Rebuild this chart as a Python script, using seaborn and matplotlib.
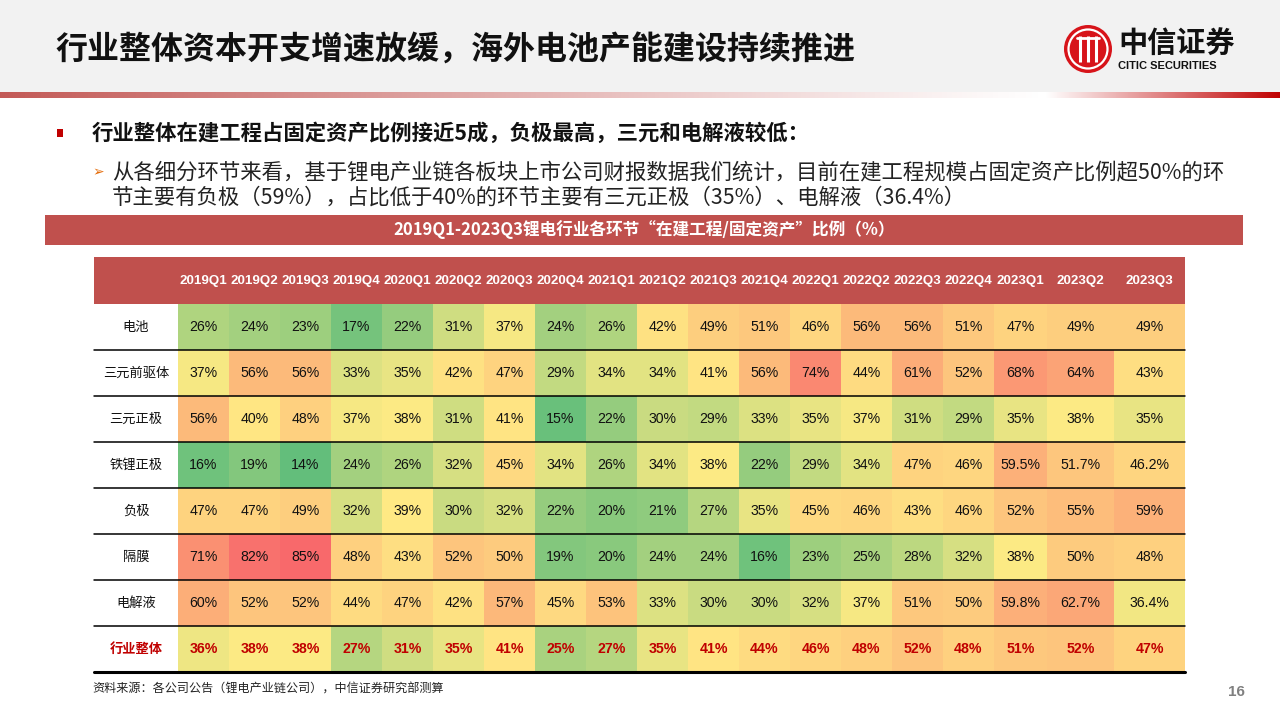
import numpy as np
import pandas as pd
import matplotlib
matplotlib.use("Agg")
import matplotlib.pyplot as plt
import matplotlib.transforms as mtransforms
from matplotlib.colors import LinearSegmentedColormap, TwoSlopeNorm
from matplotlib.patches import Rectangle, Circle
from matplotlib.ticker import NullLocator
import seaborn as sns

# ---------------- data ----------------
quarters = ["2019Q1", "2019Q2", "2019Q3", "2019Q4", "2020Q1", "2020Q2", "2020Q3", "2020Q4",
            "2021Q1", "2021Q2", "2021Q3", "2021Q4", "2022Q1", "2022Q2", "2022Q3", "2022Q4",
            "2023Q1", "2023Q2", "2023Q3"]
segments = ["电池", "三元前驱体", "三元正极", "铁锂正极", "负极", "隔膜", "电解液", "行业整体"]

battery     = [26, 24, 23, 17, 22, 31, 37, 24, 26, 42, 49, 51, 46, 56, 56, 51, 47, 49, 49]
ncm_precur  = [37, 56, 56, 33, 35, 42, 47, 29, 34, 34, 41, 56, 74, 44, 61, 52, 68, 64, 43]
ncm_cathode = [56, 40, 48, 37, 38, 31, 41, 15, 22, 30, 29, 33, 35, 37, 31, 29, 35, 38, 35]
lfp_cathode = [16, 19, 14, 24, 26, 32, 45, 34, 26, 34, 38, 22, 29, 34, 47, 46, 59.5, 51.7, 46.2]
anode       = [47, 47, 49, 32, 39, 30, 32, 22, 20, 21, 27, 35, 45, 46, 43, 46, 52, 55, 59]
separator   = [71, 82, 85, 48, 43, 52, 50, 19, 20, 24, 24, 16, 23, 25, 28, 32, 38, 50, 48]
electrolyte = [60, 52, 52, 44, 47, 42, 57, 45, 53, 33, 30, 30, 32, 37, 51, 50, 59.8, 62.7, 36.4]
industry    = [36, 38, 38, 27, 31, 35, 41, 25, 27, 35, 41, 44, 46, 48, 52, 48, 51, 52, 47]

title = "行业整体资本开支增速放缓，海外电池产能建设持续推进"
bullet = "行业整体在建工程占固定资产比例接近5成，负极最高，三元和电解液较低："
sub1 = "从各细分环节来看，基于锂电产业链各板块上市公司财报数据我们统计，目前在建工程规模占固定资产比例超50%的环"
sub2 = "节主要有负极（59%），占比低于40%的环节主要有三元正极（35%）、电解液（36.4%）"
banner = "2019Q1-2023Q3锂电行业各环节“在建工程/固定资产”比例（%）"
source = "资料来源：各公司公告（锂电产业链公司），中信证券研究部测算"

# ---------------- style ----------------
sns.set_theme(style="white")
CJK = ["Noto Sans CJK SC", "DejaVu Sans"]
LAT = ["Liberation Sans", "Noto Sans CJK SC", "DejaVu Sans"]
plt.rcParams["font.family"] = CJK

RED = "#C0504D"
DARK_RED = "#C00000"

W, H = 1280, 720
fig = plt.figure(figsize=(12.8, 7.2), dpi=100)
fig.patch.set_facecolor("white")

# background / page decoration axes in pixel coordinates
bg = fig.add_axes([0, 0, 1, 1])
bg.set_xlim(0, W)
bg.set_ylim(H, 0)
bg.axis("off")

bg.add_patch(Rectangle((0, 0), W, 92, color="#F2F2F2", lw=0))
# gradient strip
xs = np.arange(W)
grad = np.zeros((1, W, 4))
left = xs < 1045
grad[0, left, :3] = matplotlib.colors.to_rgb(RED)
grad[0, left, 3] = 0.95 * (1 - xs[left] / 1045.0) ** 1.1
grad[0, ~left, :3] = matplotlib.colors.to_rgb(DARK_RED)
grad[0, ~left, 3] = (xs[~left] - 1045) / (W - 1045.0)
bg.imshow(grad, extent=(0, W, 98, 92), aspect="auto", interpolation="bilinear")
bg.set_xlim(0, W)
bg.set_ylim(H, 0)

bg.text(55, 51, title, fontsize=23, fontweight="bold", color="#111111", va="center", ha="left")

# logo
bg.add_patch(Circle((1088, 49), 24, color="#D7141A", lw=0))
bg.add_patch(Circle((1088, 49), 19.5, fill=False, ec="white", lw=1.6))
for dx in (-8, 0, 8):
    bg.plot([1088 + dx, 1088 + dx], [36, 62], color="white", lw=2.2, solid_capstyle="butt")
bg.plot([1077, 1099], [38, 38], color="white", lw=2)
bg.text(1118, 44, "中信证券", fontsize=21, fontweight="bold", color="#111111", va="center", ha="left")
bg.text(1118, 66, "CITIC SECURITIES", fontsize=8, fontweight="bold", color="#111111",
        va="center", ha="left", family=LAT)

# bullet texts
bg.add_patch(Rectangle((57, 129), 6, 8, color=DARK_RED, lw=0))
bg.text(92, 133, bullet, fontsize=15.4, fontweight="bold", color="#111111", va="center", ha="left")
bg.text(98, 172, "➢", fontsize=10, color="#E46C0A", va="center", ha="center", family=["DejaVu Sans"])
bg.text(112, 172, sub1, fontsize=15.4, color="#222222", va="center", ha="left")
bg.text(112, 198, sub2, fontsize=15.4, color="#222222", va="center", ha="left")

# banner
bg.add_patch(Rectangle((45, 215), 1198, 30, color=RED, lw=0))
bg.text(644, 230, banner, fontsize=12, fontweight="bold", color="white", va="center", ha="center")

# table header background
L, R, T, B = 178, 1185, 304, 672
bg.add_patch(Rectangle((94, 257), R - 94, T - 257, color=RED, lw=0))

# footer
bg.text(92, 689, source, fontsize=8.7, color="#222222", va="center", ha="left")
bg.text(1236, 692, "16", fontsize=11, fontweight="bold", color="#808080", va="center", ha="center", family=LAT)

# ---------------- heatmap ----------------
ax = fig.add_axes([L / W, 1 - B / H, (R - L) / W, (B - T) / H])
df = pd.DataFrame([battery, ncm_precur, ncm_cathode, lfp_cathode, anode, separator, electrolyte, industry],
                  index=segments, columns=quarters)
annot = df.map(lambda v: f"{v:g}%")
cmap = LinearSegmentedColormap.from_list("excel3", ["#63BE7B", "#FFEB84", "#F8696B"])
vals = df.values.astype(float)
norm = TwoSlopeNorm(vmin=vals.min(), vcenter=np.median(vals), vmax=vals.max())
sns.heatmap(df, ax=ax, cmap=cmap, norm=norm, annot=annot, fmt="", cbar=False,
            annot_kws=dict(fontsize=10.2, color="#111111", family=LAT))

# non-uniform column widths (last columns wider)
widths = [51] * 16 + [53, 67, 71]
px_edges = L + np.concatenate([[0], np.cumsum(widths)])
idx_edges = np.arange(len(quarters) + 1, dtype=float)
ax.set_xscale("function", functions=(lambda x: np.interp(x, idx_edges, px_edges),
                                     lambda p: np.interp(p, px_edges, idx_edges)))
ax.set_xlim(0, len(quarters))
ax.set_ylim(len(segments), 0)

# last row styling
n = len(quarters)
for k, t in enumerate(ax.texts):
    if k >= n * (len(segments) - 1):
        t.set_color(DARK_RED)
        t.set_fontweight("bold")

ax.xaxis.tick_top()
ax.set_xticks(np.arange(n) + 0.5, labels=quarters)
ax.xaxis.set_minor_locator(NullLocator())
ax.tick_params(axis="x", length=0, pad=16.9, labelcolor="white", labelsize=9.6)
for lab in ax.get_xticklabels():
    lab.set_fontweight("bold")
    lab.set_family(LAT)
    lab.set_va("center")

ax.set_yticks(np.arange(len(segments)) + 0.5, labels=segments)
ax.tick_params(axis="y", length=0, pad=30.2, labelsize=9.5, labelrotation=0, labelcolor="#111111")
for lab in ax.get_yticklabels():
    lab.set_ha("center")
ylabs = ax.get_yticklabels()
ylabs[-1].set_color(DARK_RED)
ylabs[-1].set_fontweight("bold")
ax.set_xlabel("")
ax.set_ylabel("")

trans = mtransforms.blended_transform_factory(ax.transAxes, ax.transData)
x0 = (94 - L) / (R - L)
for i in range(1, len(segments)):
    ax.plot([x0, 1], [i, i], color="black", lw=1.1, transform=trans, clip_on=False)
ax.plot([x0, 1], [len(segments), len(segments)], color="black", lw=2.2, transform=trans, clip_on=False)

fig.savefig("out.png", dpi=100, facecolor="white")
